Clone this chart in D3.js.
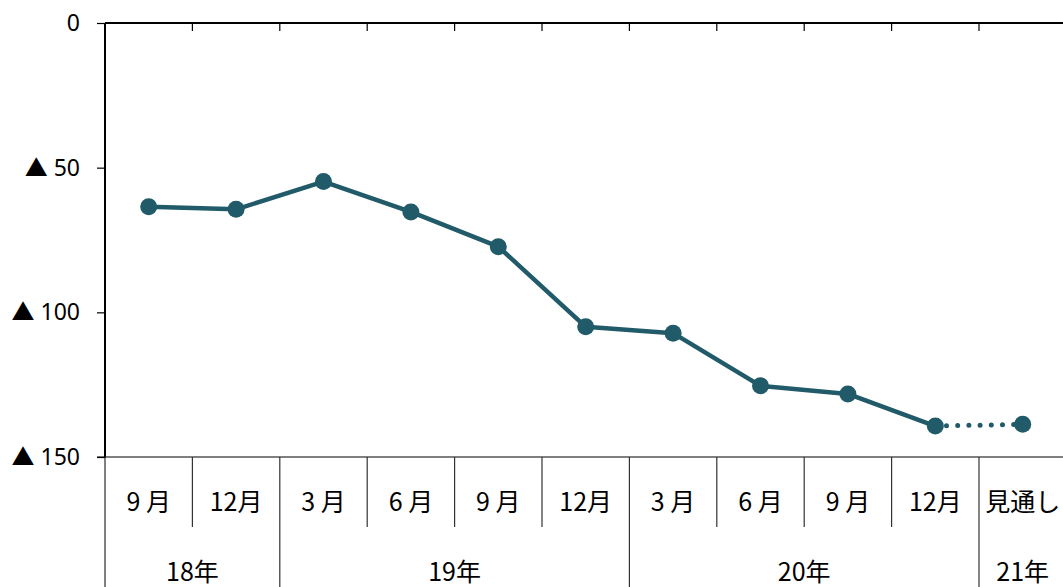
<!DOCTYPE html>
<html>
<head>
<meta charset="utf-8">
<script src="https://cdn.jsdelivr.net/npm/d3@7.9.0/dist/d3.min.js"></script>
<style>
  body { margin: 0; background: #fff; }
  svg { display: block; }
  text { font-family: "Noto Sans", "Noto Sans CJK JP", sans-serif; fill: #000; }
</style>
</head>
<body>
<div id="chart"></div>
<script>
// categories (quarter labels) and the year each belongs to
const months = ['9 月', '12月', '3 月', '6 月', '9 月', '12月', '3 月', '6 月', '9 月', '12月', '見通し'];
const years = ['18年', '19年', '20年', '21年'];
const yearSpans = [2, 4, 4, 1];
// values are negative (▲), plotted downward from 0
const values = [63.5, 64.4, 54.8, 65.3, 77.3, 105.0, 107.2, 125.4, 128.2, 139.3, 138.7];
const yTicks = [0, 50, 100, 150];

const width = 1063;
const height = 587;
const margin = { top: 23, left: 105 };
const band = 87.4;
const plotBottom = 457;
const color = '#215a69';
const axisStroke = '#000';

const svg = d3.select('#chart')
  .append('svg')
  .attr('width', width)
  .attr('height', height);

const idx = months.map((d, i) => i);

const xScale = d3.scaleBand()
  .domain(idx)
  .range([margin.left, margin.left + band * months.length]);

const yScale = d3.scaleLinear()
  .domain([0, 150])
  .range([margin.top, plotBottom]);

// y axis
const yAxis = svg.append('g')
  .attr('transform', `translate(${margin.left},0)`)
  .call(d3.axisLeft(yScale).tickValues(yTicks).tickSize(8).tickPadding(17)
    .tickFormat((d) => (d === 0 ? '0' : '▲ ' + d)));
yAxis.select('.domain').remove();
yAxis.selectAll('line').attr('stroke', '#000').attr('stroke-width', 1.2);
yAxis.selectAll('text')
  .style('font-size', '23px')
  .style('font-family', '"Noto Sans", "Noto Sans CJK JP", sans-serif');

// top line and left line
svg.append('line')
  .attr('x1', margin.left).attr('x2', width)
  .attr('y1', margin.top).attr('y2', margin.top)
  .attr('stroke', axisStroke).attr('stroke-width', 2);
svg.append('line')
  .attr('x1', margin.left).attr('x2', margin.left)
  .attr('y1', margin.top).attr('y2', plotBottom)
  .attr('stroke', axisStroke).attr('stroke-width', 2);
svg.append('line')
  .attr('x1', margin.left).attr('x2', margin.left)
  .attr('y1', plotBottom).attr('y2', height)
  .attr('stroke', axisStroke).attr('stroke-width', 1);

// bottom line of plot
svg.append('line')
  .attr('x1', margin.left - 8).attr('x2', width)
  .attr('y1', plotBottom).attr('y2', plotBottom)
  .attr('stroke', axisStroke).attr('stroke-width', 1.2);

// category boundaries
const boundaries = d3.range(1, months.length).map((i) => xScale(i));

// small ticks down from the top line
svg.append('g')
  .selectAll('line')
  .data(boundaries)
  .join('line')
  .attr('x1', (d) => d).attr('x2', (d) => d)
  .attr('y1', margin.top).attr('y2', margin.top + 8)
  .attr('stroke', axisStroke).attr('stroke-width', 1.2);

// year start positions
const yearStarts = [];
let acc = 0;
yearSpans.forEach((s) => { yearStarts.push(acc); acc += s; });

svg.append('g')
  .selectAll('line')
  .data(boundaries.map((x, k) => ({ x, i: k + 1 })))
  .join('line')
  .attr('x1', (d) => d.x).attr('x2', (d) => d.x)
  .attr('y1', plotBottom)
  .attr('y2', (d) => (yearStarts.includes(d.i) ? height : 527))
  .attr('stroke', '#333').attr('stroke-width', 1.2);

// month labels
svg.append('g')
  .selectAll('text')
  .data(months)
  .join('text')
  .attr('x', (d, i) => xScale(i) + xScale.bandwidth() / 2)
  .attr('y', 500)
  .attr('text-anchor', 'middle')
  .attr('dominant-baseline', 'central')
  .style('font-size', '25px')
  .style('font-family', '"Noto Sans CJK JP", sans-serif')
  .text((d) => d);

// year labels
svg.append('g')
  .selectAll('text')
  .data(years)
  .join('text')
  .attr('x', (d, i) => xScale(yearStarts[i]) + (yearSpans[i] * xScale.bandwidth()) / 2)
  .attr('y', 570)
  .attr('text-anchor', 'middle')
  .attr('dominant-baseline', 'central')
  .style('font-size', '25px')
  .style('font-family', '"Noto Sans CJK JP", sans-serif')
  .text((d) => d);

const cx = (i) => xScale(i) + xScale.bandwidth() / 2;

// solid line for actual values
const line = d3.line()
  .x((d, i) => cx(i))
  .y((d) => yScale(d));

svg.append('path')
  .datum(values.slice(0, values.length - 1))
  .attr('d', line)
  .attr('fill', 'none')
  .attr('stroke', color)
  .attr('stroke-width', 4.5)
  .attr('stroke-linejoin', 'round');

// dotted line to the outlook value
const n = values.length;
svg.append('line')
  .attr('x1', cx(n - 2)).attr('y1', yScale(values[n - 2]))
  .attr('x2', cx(n - 1)).attr('y2', yScale(values[n - 1]))
  .attr('stroke', color)
  .attr('stroke-width', 5)
  .attr('stroke-linecap', 'round')
  .attr('stroke-dasharray', '0 11.2');

// markers
svg.append('g')
  .selectAll('circle')
  .data(values)
  .join('circle')
  .attr('cx', (d, i) => cx(i))
  .attr('cy', (d) => yScale(d))
  .attr('r', 8.5)
  .attr('fill', color);
</script>
</body>
</html>
